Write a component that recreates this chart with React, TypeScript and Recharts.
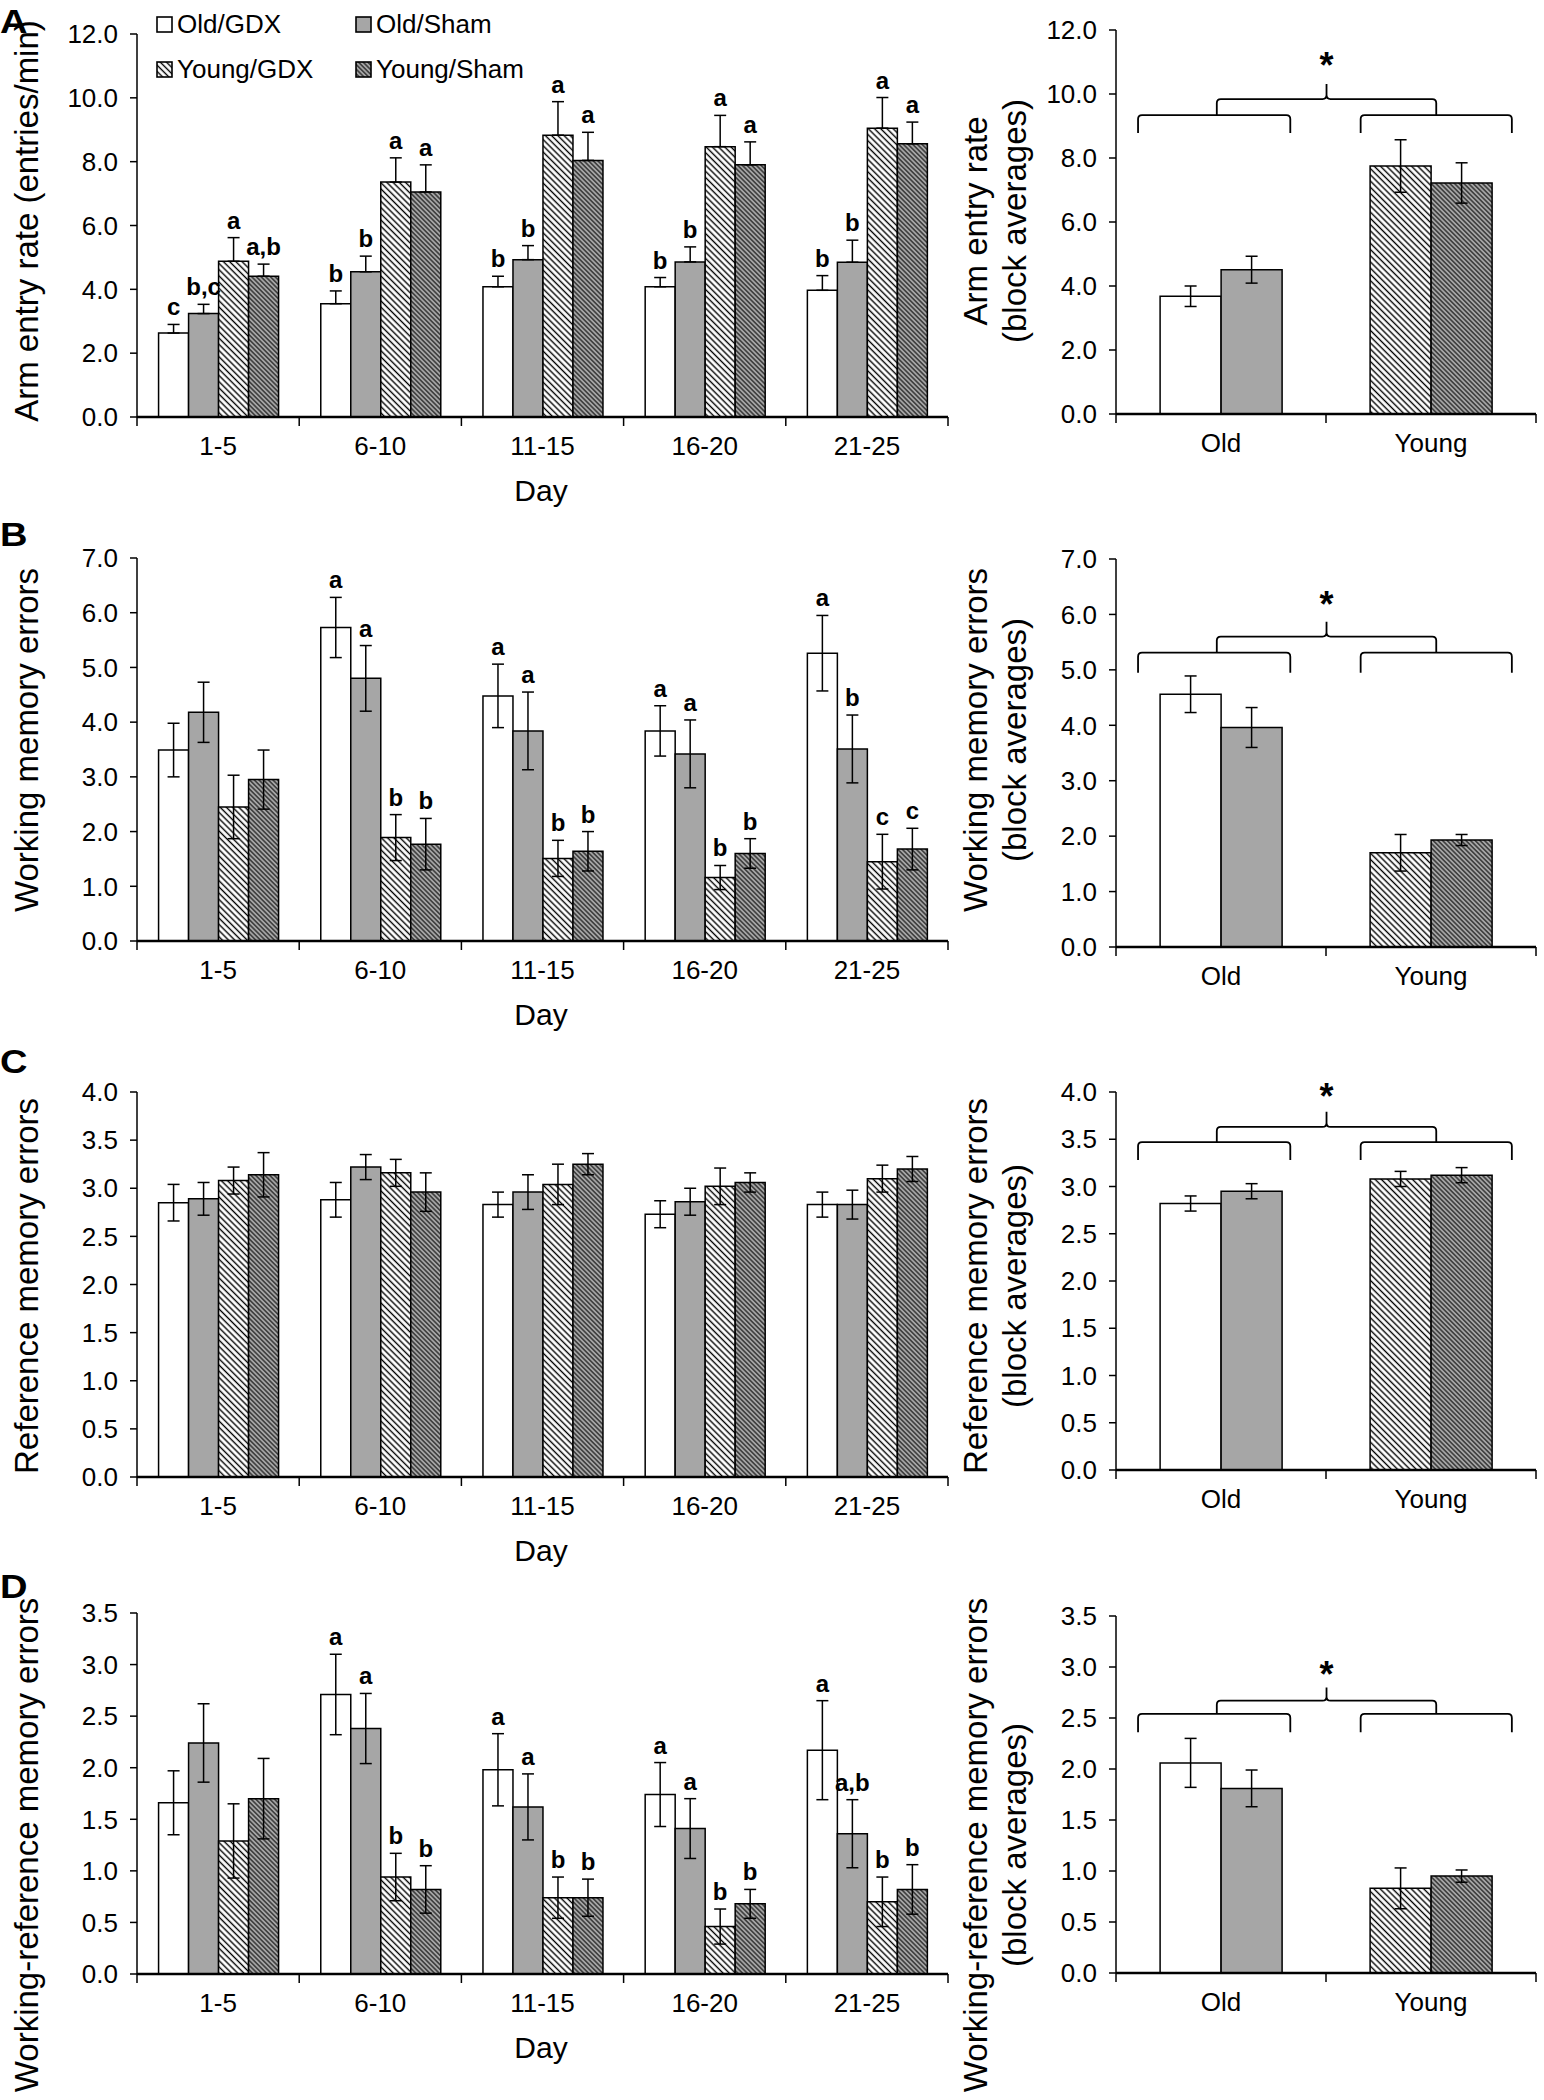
import React from "react";
import {
  BarChart,
  Bar,
  XAxis,
  YAxis,
  ErrorBar,
  LabelList,
  Cell,
  Legend,
  ReferenceLine,
} from "recharts";

const FONT = '"Liberation Sans", Arial, Helvetica, sans-serif';
const GRAY = "#a6a6a6";

// categories
const days = ["1-5", "6-10", "11-15", "16-20", "21-25"];
const ages = ["Old", "Young"];
const groupNames = ["Old/GDX", "Old/Sham", "Young/GDX", "Young/Sham"];
const seriesKeys = ["oldGdx", "oldSham", "youngGdx", "youngSham"];
const fills = ["#ffffff", GRAY, "url(#hatchW)", "url(#hatchG)"];

// A: arm entry rate (entries/min); rows follow groupNames, columns follow days
const armMean = [
  [2.63, 3.55, 4.08, 4.08, 3.97],
  [3.24, 4.55, 4.93, 4.86, 4.85],
  [4.88, 7.36, 8.83, 8.47, 9.05],
  [4.41, 7.05, 8.04, 7.9, 8.56],
];
const armSem = [
  [0.27, 0.4, 0.33, 0.29, 0.46],
  [0.29, 0.49, 0.44, 0.47, 0.69],
  [0.74, 0.76, 1.05, 0.98, 0.96],
  [0.38, 0.85, 0.88, 0.72, 0.68],
];
const armLetters = [
  ["c", "b", "b", "b", "b"],
  ["b,c", "b", "b", "b", "b"],
  ["a", "a", "a", "a", "a"],
  ["a,b", "a", "a", "a", "a"],
];
const armBlockMean = [3.68, 4.51, 7.75, 7.22];
const armBlockSem = [0.32, 0.42, 0.82, 0.63];
// lower brace, brace legs, upper brace, tip, asterisk
const armBrace = [9.34, 8.78, 9.84, 10.31, 11.09];
const armTicks = [0, 2, 4, 6, 8, 10, 12];

// B: working memory errors
const wmMean = [
  [3.49, 5.73, 4.48, 3.84, 5.26],
  [4.18, 4.8, 3.84, 3.42, 3.51],
  [2.45, 1.89, 1.51, 1.16, 1.45],
  [2.95, 1.77, 1.64, 1.6, 1.68],
];
const wmSem = [
  [0.49, 0.55, 0.58, 0.46, 0.69],
  [0.55, 0.6, 0.71, 0.62, 0.62],
  [0.58, 0.42, 0.33, 0.22, 0.5],
  [0.54, 0.47, 0.36, 0.27, 0.38],
];
const wmLetters = [
  ["", "a", "a", "a", "a"],
  ["", "a", "a", "a", "b"],
  ["", "b", "b", "b", "c"],
  ["", "b", "b", "b", "c"],
];
const wmBlockMean = [4.56, 3.96, 1.7, 1.93];
const wmBlockSem = [0.33, 0.36, 0.33, 0.1];
const wmBrace = [5.31, 4.95, 5.6, 5.87, 6.29];
const wmTicks = [0, 1, 2, 3, 4, 5, 6, 7];

// C: reference memory errors
const rmMean = [
  [2.85, 2.88, 2.83, 2.73, 2.83],
  [2.89, 3.22, 2.96, 2.86, 2.83],
  [3.08, 3.16, 3.04, 3.02, 3.1],
  [3.14, 2.96, 3.25, 3.06, 3.2],
];
const rmSem = [
  [0.19, 0.18, 0.13, 0.14, 0.13],
  [0.17, 0.13, 0.18, 0.14, 0.15],
  [0.14, 0.14, 0.21, 0.19, 0.14],
  [0.23, 0.2, 0.11, 0.1, 0.13],
];
const rmLetters = [
  ["", "", "", "", ""],
  ["", "", "", "", ""],
  ["", "", "", "", ""],
  ["", "", "", "", ""],
];
const rmBlockMean = [2.82, 2.95, 3.08, 3.12];
const rmBlockSem = [0.08, 0.08, 0.08, 0.08];
const rmBrace = [3.47, 3.28, 3.63, 3.79, 4.02];
const rmTicks = [0, 0.5, 1, 1.5, 2, 2.5, 3, 3.5, 4];

// D: working-reference memory errors
const wrmMean = [
  [1.66, 2.71, 1.98, 1.74, 2.17],
  [2.24, 2.38, 1.62, 1.41, 1.36],
  [1.29, 0.94, 0.74, 0.46, 0.7],
  [1.7, 0.82, 0.74, 0.68, 0.82],
];
const wrmSem = [
  [0.31, 0.39, 0.35, 0.31, 0.48],
  [0.38, 0.34, 0.32, 0.29, 0.33],
  [0.36, 0.23, 0.2, 0.17, 0.24],
  [0.39, 0.23, 0.18, 0.14, 0.24],
];
const wrmLetters = [
  ["", "a", "a", "a", "a"],
  ["", "a", "a", "a", "a,b"],
  ["", "b", "b", "b", "b"],
  ["", "b", "b", "b", "b"],
];
const wrmBlockMean = [2.06, 1.81, 0.83, 0.95];
const wrmBlockSem = [0.24, 0.18, 0.2, 0.06];
const wrmBrace = [2.54, 2.36, 2.67, 2.8, 2.99];
const wrmTicks = [0, 0.5, 1, 1.5, 2, 2.5, 3, 3.5];

// brace ends in band units (0..2 across the Old / Young bands)
const braceOld = [0.105, 0.83];
const braceYoung = [1.165, 1.885];
const braceTop = [0.48, 1.525];

const panels = [
  {
    letter: "A", mean: armMean, sem: armSem, letters: armLetters, upOnly: true,
    blockMean: armBlockMean, blockSem: armBlockSem, brace: armBrace, ticks: armTicks,
    title: "Arm entry rate (entries/min)", rTitle: ["Arm entry rate", "(block averages)"],
    letterY: 33, lTop: 34, lBot: 417, rTop: 30, rBot: 414, titleCy: 221, legend: true,
  },
  {
    letter: "B", mean: wmMean, sem: wmSem, letters: wmLetters, upOnly: false,
    blockMean: wmBlockMean, blockSem: wmBlockSem, brace: wmBrace, ticks: wmTicks,
    title: "Working memory errors", rTitle: ["Working memory errors", "(block averages)"],
    letterY: 546, lTop: 558, lBot: 941, rTop: 559, rBot: 947, titleCy: 740, legend: false,
  },
  {
    letter: "C", mean: rmMean, sem: rmSem, letters: rmLetters, upOnly: false,
    blockMean: rmBlockMean, blockSem: rmBlockSem, brace: rmBrace, ticks: rmTicks,
    title: "Reference memory errors", rTitle: ["Reference memory errors", "(block averages)"],
    letterY: 1073, lTop: 1092, lBot: 1477, rTop: 1092, rBot: 1470, titleCy: 1286, legend: false,
  },
  {
    letter: "D", mean: wrmMean, sem: wrmSem, letters: wrmLetters, upOnly: false,
    blockMean: wrmBlockMean, blockSem: wrmBlockSem, brace: wrmBrace, ticks: wrmTicks,
    title: "Working-reference memory errors",
    rTitle: ["Working-reference memory errors", "(block averages)"],
    letterY: 1598, lTop: 1613, lBot: 1974, rTop: 1616, rBot: 1973, titleCy: 1845, legend: false,
  },
];

const tickStyle = { fill: "#000", fontSize: 26, fontFamily: FONT };
const fmt = (v: number) => v.toFixed(1);
const TICK_SIZE = 8;
const TICK_MARGIN = 12;

// category label at the band centre, tick marks on the band edges
const bandTick = (count: number, halfBand: number) => (p: any) => {
  const half = p.payload && typeof p.payload.offset === "number" && p.payload.offset > 0 ? p.payload.offset : halfBand;
  const axisY = p.y - TICK_SIZE - TICK_MARGIN;
  const idx = typeof p.index === "number" ? p.index : p.payload.index;
  return (
    <g>
      <line x1={p.x - half} y1={axisY} x2={p.x - half} y2={axisY + 9} stroke="#000" strokeWidth={1.5} />
      {idx === count - 1 && (
        <line x1={p.x + half} y1={axisY} x2={p.x + half} y2={axisY + 9} stroke="#000" strokeWidth={1.5} />
      )}
      <text x={p.x} y={p.y} dy="0.71em" textAnchor="middle" fill="#000" fontSize={26} fontFamily={FONT}>
        {p.payload.value}
      </text>
    </g>
  );
};

const letterContent = (mean: number[][], sem: number[][], letters: string[][], s: number) =>
  (p: any) => {
    const i = typeof p.index === "number" ? p.index : Number(p.value);
    const t = letters[s][i];
    if (!t) return null;
    const vb = p.viewBox || p;
    const k = vb.height / mean[s][i];
    const top = vb.y - sem[s][i] * k;
    return (
      <text x={vb.x + vb.width / 2} y={top - 9} textAnchor="middle"
        fontFamily={FONT} fontWeight="bold" fontSize={24} fill="#000">
        {t}
      </text>
    );
  };

const LegendBox = () => (
  <div style={{ display: "grid", gridTemplateColumns: "199px 199px", fontFamily: FONT, fontSize: 26, color: "#000" }}>
    {groupNames.map((name, s) => (
      <div key={name} style={{ display: "flex", alignItems: "center", height: 45 }}>
        <svg width={17} height={17} style={{ marginRight: 4 }}>
          <rect x={1} y={1} width={15} height={15} fill={fills[s]} stroke="#000" strokeWidth={1.6} />
        </svg>
        <span>{name}</span>
      </div>
    ))}
  </div>
);

// whole two-level brace plus asterisk, drawn from the Old centre (tip) to the Young centre (legs)
const braceShape = (brace: number[]) => (p: any) => {
  const [lower, legs, upper, tip, ast] = brace;
  const xa = Math.min(p.x1, p.x2);
  const bw = Math.abs(p.x2 - p.x1);
  const yTip = p.x1 <= p.x2 ? p.y1 : p.y2;
  const yLegs = p.x1 <= p.x2 ? p.y2 : p.y1;
  const py = (v: number) => yTip + ((yLegs - yTip) * (tip - v)) / (tip - legs);
  const px = (u: number) => xa + (u - 0.5) * bw;
  const r = 4;
  const yl = py(lower), yu = py(upper), yt = py(tip), yb = py(legs);
  const low = (u0: number, u1: number) => {
    const a = px(u0), b = px(u1);
    return `M${a},${yb} L${a},${yl + r} Q${a},${yl} ${a + r},${yl} L${b - r},${yl} Q${b},${yl} ${b},${yl + r} L${b},${yb} `;
  };
  const a = px(braceTop[0]), b = px(braceTop[1]), m = (a + b) / 2;
  const up =
    `M${a},${yl} L${a},${yu + r} Q${a},${yu} ${a + r},${yu} L${m - r},${yu} Q${m},${yu} ${m},${yu - r} L${m},${yt} ` +
    `M${m},${yu - r} Q${m},${yu} ${m + r},${yu} L${b - r},${yu} Q${b},${yu} ${b},${yu + r} L${b},${yl}`;
  return (
    <g>
      <path d={low(braceOld[0], braceOld[1]) + low(braceYoung[0], braceYoung[1]) + up}
        fill="none" stroke="#000" strokeWidth={1.8} />
      <text x={m} y={py(ast) + 19} textAnchor="middle" fontFamily={FONT} fontWeight="bold" fontSize={36} fill="#000">
        *
      </text>
    </g>
  );
};

const LEFT_W = 960, LEFT_ML = 37, LEFT_MR = 12;
const RIGHT_X = 900, RIGHT_W = 644, RIGHT_ML = 116, RIGHT_MR = 8;
const Y_W = 100, X_H = 60;

function DayChart({ pn }: { pn: any }) {
  const data = days.map((day, i) => {
    const row: any = { day, idx: i };
    seriesKeys.forEach((k, s) => {
      row[k] = pn.mean[s][i];
      row[k + "Err"] = pn.upOnly ? [0, pn.sem[s][i]] : pn.sem[s][i];
    });
    return row;
  });
  const MT = 30;
  const plotH = pn.lBot - pn.lTop;
  const yMax = pn.ticks[pn.ticks.length - 1];
  const halfBand = (LEFT_W - LEFT_ML - LEFT_MR - Y_W) / days.length / 2;
  return (
    <div style={{ position: "absolute", left: 0, top: pn.lTop - MT }}>
      <BarChart width={LEFT_W} height={MT + plotH + X_H} data={data}
        margin={{ top: MT, right: LEFT_MR, bottom: 0, left: LEFT_ML }} barCategoryGap="13.3%" barGap={0}>
        <XAxis dataKey="day" height={X_H} interval={0} tickLine={false}
          axisLine={{ stroke: "#000", strokeWidth: 2.5 }} tick={bandTick(days.length, halfBand)}
          tickSize={TICK_SIZE} tickMargin={TICK_MARGIN} />
        <YAxis type="number" domain={[0, yMax]} ticks={pn.ticks} interval={0} tickFormatter={fmt} width={Y_W}
          axisLine={{ stroke: "#000", strokeWidth: 1.5 }} tickLine={{ stroke: "#000", strokeWidth: 1.5 }}
          tickSize={7} tickMargin={12} tick={tickStyle} allowDataOverflow />
        {seriesKeys.map((k, s) => (
          <Bar key={k} dataKey={k} name={groupNames[s]} fill={fills[s]} stroke="#000" strokeWidth={1.5}
            isAnimationActive={false}>
            <ErrorBar dataKey={k + "Err"} direction="y" width={6} stroke="#000" strokeWidth={1.5}
              isAnimationActive={false} />
            <LabelList dataKey="idx" content={letterContent(pn.mean, pn.sem, pn.letters, s)} />
          </Bar>
        ))}
        {pn.legend && (
          <Legend content={LegendBox} layout="horizontal" verticalAlign="middle" align="center"
            wrapperStyle={{ position: "absolute", left: 156, top: -2, width: 420, height: 90 }} />
        )}
      </BarChart>
    </div>
  );
}

function BlockChart({ pn }: { pn: any }) {
  const data = ages.map((age, i) => ({
    age,
    gdx: pn.blockMean[i * 2],
    gdxErr: pn.blockSem[i * 2],
    sham: pn.blockMean[i * 2 + 1],
    shamErr: pn.blockSem[i * 2 + 1],
  }));
  const MT = 30;
  const plotH = pn.rBot - pn.rTop;
  const yMax = pn.ticks[pn.ticks.length - 1];
  const halfBand = (RIGHT_W - RIGHT_ML - RIGHT_MR - Y_W) / ages.length / 2;
  const [, legs, , tip] = pn.brace;
  return (
    <div style={{ position: "absolute", left: RIGHT_X, top: pn.rTop - MT }}>
      <BarChart width={RIGHT_W} height={MT + plotH + X_H} data={data}
        margin={{ top: MT, right: RIGHT_MR, bottom: 0, left: RIGHT_ML }} barCategoryGap="21%" barGap={0}>
        <XAxis dataKey="age" height={X_H} interval={0} tickLine={false}
          axisLine={{ stroke: "#000", strokeWidth: 2.5 }} tick={bandTick(ages.length, halfBand)}
          tickSize={TICK_SIZE} tickMargin={TICK_MARGIN} />
        <YAxis type="number" domain={[0, yMax]} ticks={pn.ticks} interval={0} tickFormatter={fmt} width={Y_W}
          axisLine={{ stroke: "#000", strokeWidth: 1.5 }} tickLine={{ stroke: "#000", strokeWidth: 1.5 }}
          tickSize={7} tickMargin={12} tick={tickStyle} allowDataOverflow />
        <Bar dataKey="gdx" stroke="#000" strokeWidth={1.5} isAnimationActive={false}>
          {data.map((_, i) => (
            <Cell key={i} fill={fills[i * 2]} />
          ))}
          <ErrorBar dataKey="gdxErr" direction="y" width={6} stroke="#000" strokeWidth={1.5} isAnimationActive={false} />
        </Bar>
        <Bar dataKey="sham" stroke="#000" strokeWidth={1.5} isAnimationActive={false}>
          {data.map((_, i) => (
            <Cell key={i} fill={fills[i * 2 + 1]} />
          ))}
          <ErrorBar dataKey="shamErr" direction="y" width={6} stroke="#000" strokeWidth={1.5} isAnimationActive={false} />
        </Bar>
        <ReferenceLine ifOverflow="visible" shape={braceShape(pn.brace)}
          segment={[{ x: ages[0], y: tip }, { x: ages[1], y: legs }]} />
      </BarChart>
    </div>
  );
}

export default function App() {
  return (
    <div style={{ position: "relative", width: 1544, height: 2100, background: "#fff", overflow: "hidden", fontFamily: FONT }}>
      <style>{"body{margin:0}"}</style>
      <svg width={0} height={0} style={{ position: "absolute" }}>
        <defs>
          <pattern id="hatchW" width={4.4} height={4.4} patternUnits="userSpaceOnUse" patternTransform="rotate(-45)">
            <rect width={4.4} height={4.4} fill="#fff" />
            <line x1={2.2} y1={-1} x2={2.2} y2={6} stroke="#000" strokeWidth={1.4} />
          </pattern>
          <pattern id="hatchG" width={3.3} height={3.3} patternUnits="userSpaceOnUse" patternTransform="rotate(-45)">
            <rect width={3.3} height={3.3} fill={GRAY} />
            <line x1={1.65} y1={-1} x2={1.65} y2={5} stroke="#000" strokeWidth={1} />
          </pattern>
        </defs>
      </svg>
      {panels.map((pn) => (
        <React.Fragment key={pn.letter}>
          <DayChart pn={pn} />
          <BlockChart pn={pn} />
        </React.Fragment>
      ))}
      <svg width={1544} height={2100} style={{ position: "absolute", left: 0, top: 0, pointerEvents: "none" }}
        fontFamily={FONT} fill="#000">
        {panels.map((pn) => (
          <g key={pn.letter}>
            <text transform={`translate(0, ${pn.letterY}) scale(1.12, 1)`} fontWeight="bold" fontSize={34}>{pn.letter}</text>
            <text transform={`translate(26, ${pn.titleCy}) rotate(-90)`} textAnchor="middle"
              dominantBaseline="central" fontSize={33}>{pn.title}</text>
            <text transform={`translate(975, ${pn.titleCy}) rotate(-90)`} textAnchor="middle"
              dominantBaseline="central" fontSize={33}>{pn.rTitle[0]}</text>
            <text transform={`translate(1014, ${pn.titleCy}) rotate(-90)`} textAnchor="middle"
              dominantBaseline="central" fontSize={33}>{pn.rTitle[1]}</text>
            <text x={541} y={pn.lBot + 84} textAnchor="middle" fontSize={30}>Day</text>
          </g>
        ))}
      </svg>
    </div>
  );
}
